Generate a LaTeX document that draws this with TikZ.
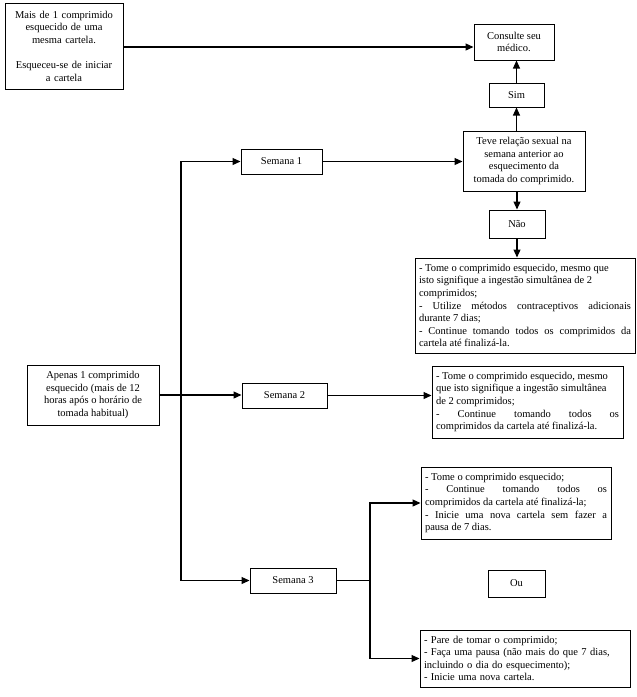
\documentclass[tikz,border=0pt]{standalone}
\usepackage{fontspec}
\setmainfont{Liberation Serif}
\usepackage{tikz}
\usetikzlibrary{arrows.meta}
\usetikzlibrary{calc}

\begin{document}
\begin{tikzpicture}[x=1pt, y=-1pt, line width=1.2pt,
    every node/.style={draw, line width=1pt, font=\fontsize{10.5}{12.6}\selectfont, inner sep=4pt},
    box/.style={align=center},
    note/.style={align=justify},
    arr/.style={-{Triangle[length=8pt, width=7pt]}}]
        \useasboundingbox (0,0) rectangle (637,697);

        \node[box, minimum width=118, minimum height=86, text width=110] (mais) at (64, 46)
          {Mais de 1 comprimido\\esquecido de uma\\mesma cartela.\\[12.6pt]Esqueceu-se de iniciar\\a cartela};

        \node[box, minimum width=80, minimum height=36] (consulte) at (514, 42) {Consulte seu\\médico.};
        \node[box, minimum width=55, minimum height=24] (sim) at (516.5, 95) {Sim};
        \node[box, minimum width=122, minimum height=60] (teve) at (524, 161)
          {Teve relação sexual na\\semana anterior ao\\esquecimento da\\tomada do comprimido.};
        \node[box, minimum width=56, minimum height=28] (nao) at (517, 224) {Não};

        \node[note, text width=212, minimum height=95] (tomeA) at (525, 305.5)
          {- Tome o comprimido esquecido, mesmo que\newline isto signifique a ingestão simultânea de 2\newline comprimidos;\par
           - Utilize métodos contraceptivos adicionais\linebreak durante 7 dias;\par
           - Continue tomando todos os comprimidos da\linebreak cartela até finalizá-la.};

        \node[box, minimum width=132, minimum height=60] (apenas) at (93, 395)
          {Apenas 1 comprimido\\esquecido (mais de 12\\horas após o horário de\\tomada habitual)};

        \node[box, minimum width=81, minimum height=25] (sem1) at (281.5, 161.5) {Semana 1};
        \node[box, minimum width=85, minimum height=25] (sem2) at (284.5, 395.5) {Semana 2};
        \node[box, minimum width=86, minimum height=25] (sem3) at (293, 580.5) {Semana 3};

        \node[note, text width=183, minimum height=72] (tomeB) at (527.5, 402)
          {- Tome o comprimido esquecido, mesmo\newline que isto signifique a ingestão simultânea\newline de 2 comprimidos;\par
           - Continue tomando todos os\linebreak comprimidos da cartela até finalizá-la.};

        \node[note, text width=182, minimum height=72] (tomeC) at (516, 503)
          {- Tome o comprimido esquecido;\par
           - Continue tomando todos os\linebreak comprimidos da cartela até finalizá-la;\par
           - Inicie uma nova cartela sem fazer a\linebreak pausa de 7 dias.};

        \node[box, minimum width=57, minimum height=27] (ou) at (516.5, 583.5) {Ou};

        \node[note, text width=202, minimum height=57, align=left] (pare) at (525, 658.5)
          {- Pare de tomar o comprimido;\\
           - Faça uma pausa (não mais do que 7 dias,\\
           incluindo o dia do esquecimento);\\
           - Inicie uma nova cartela.};

        \coordinate (split) at (181, 395);
        \coordinate (split3) at (370, 580.5);

        \draw[arr] (mais.east |- 0,47) -- (consulte.west |- 0,47);
        \draw[arr] (sim.north) -- (sim.north |- consulte.south);
        \draw[arr] (teve.north -| sim) -- (sim.south);
        \draw[arr] (teve.south -| nao) -- (nao.north);
        \draw[arr] (nao.south) -- (nao.south |- tomeA.north);

        \draw[arr] (apenas) -- (apenas -| sem2.west);
        \draw[arr] (split) |- (sem1);
        \draw[arr] (split) |- (sem3);

        \draw[arr] (sem1) -- (sem1 -| teve.west);
        \draw[arr] (sem2.east) -- (sem2.east -| tomeB.west);
        \draw (sem3) -- (split3);
        \draw[arr] (split3) |- (tomeC);
        \draw[arr] (split3) |- (pare);
      \end{tikzpicture}
\end{document}
